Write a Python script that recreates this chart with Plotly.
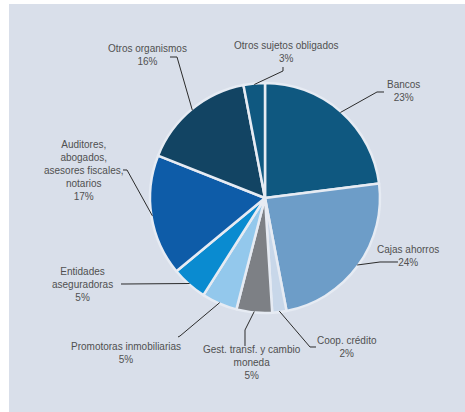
import math
import plotly.graph_objects as go

W, H = 465, 412

labels = ["Bancos", "Cajas ahorros", "Coop. crédito", "Gest. transf. y cambio moneda",
          "Promotoras inmobiliarias", "Entidades aseguradoras",
          "Auditores, abogados, asesores fiscales, notarios",
          "Otros organismos", "Otros sujetos obligados"]
label_text = ["Bancos", "Cajas ahorros", "Coop. crédito", "Gest. transf. y cambio<br>moneda",
              "Promotoras inmobiliarias", "Entidades<br>aseguradoras",
              "Auditores,<br>abogados,<br>asesores fiscales,<br>notarios",
              "Otros organismos", "Otros sujetos obligados"]
values = [23, 24, 2, 5, 5, 5, 17, 16, 3]

colors = ["#0f5880", "#6d9dc8", "#c8d7e9", "#7d8085", "#93c8ec",
          "#0a8bd0", "#0e5ca8", "#124463", "#0f5880"]

# layout (pixel) styling
cx, cy, R = 265, 198, 115
label_pos = [(403, 91), (408, 256), (347, 347), (252, 362), (126, 353),
             (82, 284), (83, 170), (147, 55), (286, 52)]
elbows = [[(377, 92), (384, 92)], [(380, 262), (398, 262)], [(310, 347), (316, 347)],
          [(245, 330), (245, 346)], [(180, 336), (178, 337)], [(126, 284), (121, 284)],
          [(127, 170), (123, 170)], [(177, 57), (170, 57)], [(283, 71), (283, 67)]]

def px(x):
    return x / W

def py(y):
    return 1 - y / H

fig = go.Figure()
fig.add_trace(go.Pie(
    labels=labels, values=values, sort=False, direction="clockwise", rotation=0,
    marker=dict(colors=colors, line=dict(color="#e6ebf3", width=2.5)),
    textinfo="none", hoverinfo="label+percent", showlegend=False,
    domain=dict(x=[px(cx - R), px(cx + R)], y=[py(cy + R), py(cy - R)]),
))

total = sum(values)
cum = 0
shapes = []
annotations = []
for i, v in enumerate(values):
    mid = (cum + v / 2) / total * 2 * math.pi
    cum += v
    ax = cx + (R - 1) * math.sin(mid)
    ay = cy - (R - 1) * math.cos(mid)
    pts = [(ax, ay)] + elbows[i]
    path = "M " + " L ".join(f"{px(x):.5f},{py(y):.5f}" for x, y in pts)
    shapes.append(dict(type="path", xref="paper", yref="paper", path=path,
                       line=dict(color="#2b2b2b", width=1)))
    lx, ly = label_pos[i]
    annotations.append(dict(
        x=px(lx), y=py(ly), xref="paper", yref="paper", showarrow=False,
        text=f"{label_text[i]}<br>{v}%", xanchor="center", yanchor="middle",
        align="center", font=dict(family="Liberation Sans, Arial", size=10, color="#505050"),
    ))

# white border strips (left/top) of the reference frame
shapes.append(dict(type="rect", xref="paper", yref="paper", x0=0, x1=px(9), y0=0, y1=1,
                   fillcolor="white", line=dict(width=0)))
shapes.append(dict(type="rect", xref="paper", yref="paper", x0=0, x1=1, y0=py(4), y1=1,
                   fillcolor="white", line=dict(width=0)))

fig.update_layout(
    width=W, height=H, margin=dict(l=0, r=0, t=0, b=0),
    paper_bgcolor="#d9dfea", plot_bgcolor="#d9dfea",
    shapes=shapes, annotations=annotations,
)
fig.write_html("out.html", config={"displayModeBar": False},
               post_script="document.body.style.margin='0';")
